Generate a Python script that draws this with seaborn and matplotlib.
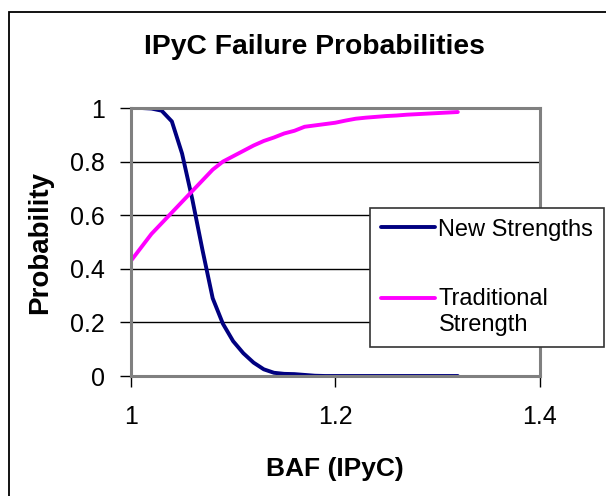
import matplotlib
matplotlib.use("Agg")
import matplotlib.pyplot as plt
import seaborn as sns
from matplotlib.patches import Rectangle

# BAF values (x) and the two probability curves
baf = [1.00, 1.01, 1.02, 1.03, 1.04, 1.05, 1.06, 1.07, 1.08, 1.09, 1.10,
       1.11, 1.12, 1.13, 1.14, 1.15, 1.16, 1.17, 1.18, 1.19, 1.20, 1.21,
       1.22, 1.23, 1.24, 1.25, 1.26, 1.27, 1.28, 1.29, 1.30, 1.31, 1.32]

new_strengths = [1.0, 1.0, 0.998, 0.99, 0.95, 0.83, 0.66, 0.47, 0.29, 0.195, 0.13,
                 0.085, 0.05, 0.025, 0.012, 0.008, 0.007, 0.004, 0.001, 0.0, 0.0, 0.0,
                 0.0, 0.0, 0.0, 0.0, 0.0, 0.0, 0.0, 0.0, 0.0, 0.0, 0.0]

traditional = [0.43, 0.48, 0.53, 0.57, 0.61, 0.65, 0.69, 0.73, 0.77, 0.80, 0.82,
               0.84, 0.86, 0.877, 0.89, 0.905, 0.915, 0.93, 0.935, 0.94, 0.945, 0.953,
               0.96, 0.964, 0.967, 0.97, 0.972, 0.975, 0.977, 0.979, 0.981, 0.983, 0.985]

x_ticks = [1.0, 1.2, 1.4]
x_labels = ["1", "1.2", "1.4"]
y_ticks = [0, 0.2, 0.4, 0.6, 0.8, 1.0]
y_labels = ["0", "0.2", "0.4", "0.6", "0.8", "1"]

sns.set_theme(style="white")
plt.rcParams['font.family'] = ['Liberation Sans', 'DejaVu Sans']
plt.rcParams['text.color'] = 'black'
plt.rcParams['axes.labelcolor'] = 'black'

fig = plt.figure(figsize=(6.06, 4.96), dpi=100)
ax = fig.add_axes([131 / 606, 120 / 496, 408.5 / 606, 268 / 496])

# outer chart border
fig.patches.append(Rectangle((9 / 606, -0.05), 1.1, 1 - 12 / 496 + 0.05,
                             transform=fig.transFigure, fill=False,
                             edgecolor="black", linewidth=1.3))

sns.lineplot(x=baf, y=new_strengths, ax=ax, color="#000080", linewidth=2.8,
             label="New Strengths")
sns.lineplot(x=baf, y=traditional, ax=ax, color="#FF00FF", linewidth=2.8,
             label="Traditional\nStrength")

ax.set_xlim(1.0, 1.4)
ax.set_ylim(0, 1)
ax.set_xticks(x_ticks)
ax.set_xticklabels(x_labels)
ax.set_yticks(y_ticks)
ax.set_yticklabels(y_labels)
ax.tick_params(axis="both", direction="out", length=8, width=1, color="black",
               labelsize=18, labelcolor="black", bottom=True, left=True)
ax.tick_params(axis="x", pad=13)
ax.tick_params(axis="y", pad=11)

ax.yaxis.grid(True, color="black", linewidth=1)
ax.xaxis.grid(False)
ax.set_axisbelow(True)

for sp in ax.spines.values():
    sp.set_color("#808080")
    sp.set_linewidth(2.2)
    sp.set_visible(True)

ax.set_xlabel("BAF (IPyC)", fontsize=19, fontweight="bold", labelpad=20)
ax.set_ylabel("Probability", fontsize=20, fontweight="bold", labelpad=12)

fig.text(314 / 606, 1 - 47 / 496, "IPyC Failure Probabilities", fontsize=20.3,
         fontweight="bold", ha="center", va="center", color="black")

leg = ax.legend(loc="upper left", bbox_to_anchor=(370 / 606, 1 - 208 / 496),
                bbox_transform=fig.transFigure, fontsize=17, frameon=True,
                fancybox=False, shadow=False, borderaxespad=0, borderpad=0.45,
                handlelength=2.3, handletextpad=0.15, labelspacing=2.0)
leg.get_frame().set_edgecolor("#333333")
leg.get_frame().set_linewidth(1.2)
leg.get_frame().set_facecolor("white")
leg.get_frame().set_alpha(1)
for t in leg.get_texts():
    t.set_linespacing(1.25)
    t.set_color("black")

# move the pink handle up to the first line of its two-line label
pink = leg.legend_handles[1]
pink.set_ydata([y + 10 for y in pink.get_ydata()])

fig.savefig("out.png", dpi=100)
